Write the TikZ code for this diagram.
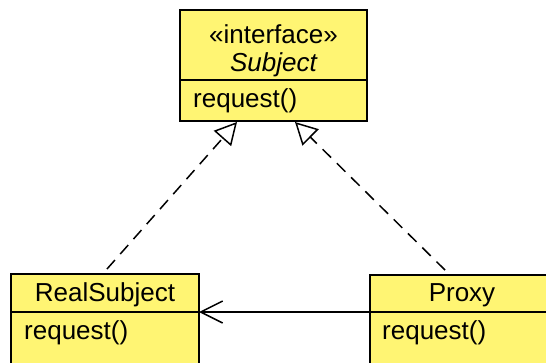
\documentclass[tikz,border=0pt]{standalone}
\usepackage{fontspec}
\setmainfont{Liberation Sans}
\usetikzlibrary{arrows.meta}
\definecolor{umlyellow}{RGB}{255,245,115}
\begin{document}
\begin{tikzpicture}[x=1pt,y=-1pt,
  comp/.style={draw=black, line width=1.5pt, fill=umlyellow, inner sep=0pt, outer sep=0pt},
  lbl/.style={font=\fontsize{26}{30}\selectfont, inner sep=0pt},
  realize/.style={draw=black, line width=1.5pt, dash pattern=on 12pt off 8pt, -{Triangle[open, length=22pt, width=23pt, line width=1.5pt]}},
  assoc/.style={draw=black, line width=1.4pt, -{Straight Barb[length=22pt, width=22pt, line width=1.5pt]}}]
\useasboundingbox (0,0) rectangle (546,362);
\fill[white] (0,0) rectangle (546,362);
\begin{scope}
\clip (0,0) rectangle (546,362);
% Subject
\node[comp, minimum width=187pt, minimum height=70pt] (subjHead) at (273.5,45) {};
\node[comp, minimum width=187pt, minimum height=41pt, anchor=north] (subjOps) at (subjHead.south) {};
\node[lbl] (subjSt) at (273.5,34) {«interface»};
\node[lbl, font=\fontsize{26}{30}\selectfont\itshape] (subjName) at (273.5,65) {Subject};
\node[lbl, anchor=west] (subjReq) at (193,101) {request()};
% RealSubject
\node[comp, minimum width=188pt, minimum height=38pt] (rsHead) at (105,293) {};
\node[comp, minimum width=188pt, minimum height=60pt, anchor=north] (rsOps) at (rsHead.south) {};
\node[lbl] (rsName) at (105,295) {RealSubject};
\node[lbl, anchor=west] (rsReq) at (24,333) {request()};
% Proxy
\node[comp, minimum width=188pt, minimum height=37pt] (pxHead) at (464,293.5) {};
\node[comp, minimum width=188pt, minimum height=60pt, anchor=north] (pxOps) at (pxHead.south) {};
\node[lbl] (pxName) at (462,295) {Proxy};
\node[lbl, anchor=west] (pxReq) at (382,333) {request()};
\end{scope}
% connectors
\coordinate (tipL) at (237,122);
\coordinate (tipR) at (295,122);
\coordinate (startL) at (107,269);
\coordinate (startR) at (445,270);
\draw[realize] (startL) -- (tipL);
\draw[realize] (startR) -- (tipR);
\draw[assoc] (pxHead.south west) -- (rsHead.south east);
\end{tikzpicture}
\end{document}
